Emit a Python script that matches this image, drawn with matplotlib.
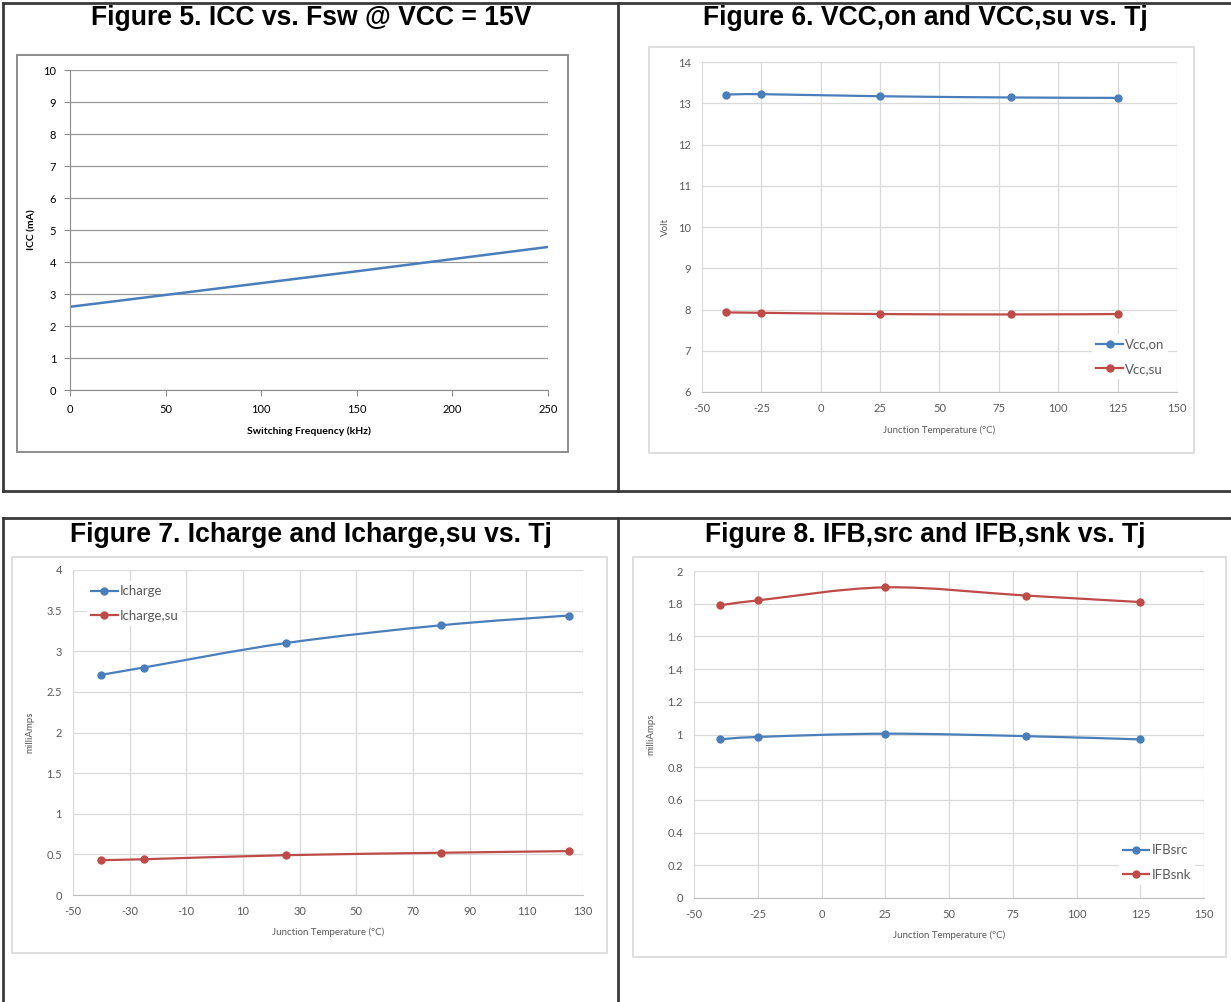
"""
Four datasheet characteristic plots (Figure 5-8) laid out in a 2x2 table.
"""
import matplotlib
matplotlib.use("Agg")
import matplotlib.pyplot as plt
from matplotlib.lines import Line2D
from matplotlib.patches import Rectangle, PathPatch
from matplotlib.path import Path

plt.rcParams["axes.unicode_minus"] = False

# ---- data -------------------------------------------------------------
fsw_khz = [0, 50, 100, 150, 200, 250]
icc_ma = [2.60, 2.97, 3.34, 3.71, 4.09, 4.47]

tj = [-40, -25, 25, 80, 125]
vcc_on = [13.21, 13.22, 13.17, 13.14, 13.13]
vcc_su = [7.93, 7.92, 7.89, 7.88, 7.89]

icharge = [2.71, 2.80, 3.10, 3.32, 3.44]
icharge_su = [0.43, 0.44, 0.49, 0.52, 0.54]

ifb_src = [0.97, 0.985, 1.005, 0.99, 0.97]
ifb_snk = [1.79, 1.82, 1.90, 1.85, 1.81]

TITLES = ["Figure 5. ICC vs. Fsw @ VCC = 15V",
          "Figure 6. VCC,on and VCC,su vs. Tj",
          "Figure 7. Icharge and Icharge,su vs. Tj",
          "Figure 8. IFB,src and IFB,snk vs. Tj"]

BLUE = "#4a7ebb"
RED = "#be4b48"
GREY_TXT = "#595959"
GRID = "#d9d9d9"
TICK_FONT = ["Lato", "DejaVu Sans"]

W, H = 1231, 1002
fig = plt.figure(figsize=(W / 100, H / 100), dpi=100)


def fx(px):
    return px / W


def fy(py):
    return 1 - py / H


def axes_px(x0, y0, x1, y1):
    return fig.add_axes([fx(x0), fy(y1), fx(x1 - x0), (y1 - y0) / H])


def frame_px(x0, y0, x1, y1, color, lw):
    fig.add_artist(Rectangle((fx(x0), fy(y1)), fx(x1 - x0), (y1 - y0) / H,
                             transform=fig.transFigure, fill=False,
                             edgecolor=color, linewidth=lw))


def hline(y, x0, x1):
    fig.add_artist(Line2D([fx(x0), fx(x1)], [fy(y), fy(y)], color="#3a3a3a", lw=2))


def vline(x, y0, y1):
    fig.add_artist(Line2D([fx(x), fx(x)], [fy(y0), fy(y1)], color="#3a3a3a", lw=2))


def smooth(ax, xs, ys, color, label):
    # Excel-style smoothed line: cubic bezier through every point
    verts = [(xs[0], ys[0])]
    codes = [Path.MOVETO]
    n = len(xs)
    for i in range(n - 1):
        xp, yp = (xs[i - 1], ys[i - 1]) if i > 0 else (xs[i], ys[i])
        xn, yn = (xs[i + 2], ys[i + 2]) if i + 2 < n else (xs[i + 1], ys[i + 1])
        c1 = (xs[i] + (xs[i + 1] - xp) / 6, ys[i] + (ys[i + 1] - yp) / 6)
        c2 = (xs[i + 1] - (xn - xs[i]) / 6, ys[i + 1] - (yn - ys[i]) / 6)
        verts += [c1, c2, (xs[i + 1], ys[i + 1])]
        codes += [Path.CURVE4] * 3
    ax.add_patch(PathPatch(Path(verts, codes), fill=False, edgecolor=color, lw=1.6))
    ax.plot(xs, ys, "o", color=color, ms=5, zorder=3)
    ax.plot([], [], "-o", color=color, ms=5, lw=1.6, label=label)


def style_modern(ax, xticks, yticks, ylabel):
    ax.set_xlim(xticks[0], xticks[-1])
    ax.set_ylim(yticks[0], yticks[-1])
    ax.set_xticks(xticks)
    ax.set_yticks(yticks)
    ax.set_yticklabels([f"{v:g}" for v in yticks])
    ax.grid(True, color=GRID, lw=0.9)
    ax.set_axisbelow(True)
    for s in ["top", "right", "left"]:
        ax.spines[s].set_visible(False)
    ax.spines["bottom"].set_color("#bfbfbf")
    ax.tick_params(length=0, labelsize=8, labelcolor=GREY_TXT, pad=8)
    for lab in ax.get_xticklabels() + ax.get_yticklabels():
        lab.set_family(TICK_FONT)
    ax.set_xlabel("Junction Temperature (°C)", fontsize=7, color=GREY_TXT,
                  family=TICK_FONT)
    ax.set_ylabel(ylabel, fontsize=7, color=GREY_TXT, family=TICK_FONT)


def add_legend(ax, loc, anchor):
    ax.legend(loc=loc, bbox_to_anchor=anchor, frameon=True,
              facecolor="white", edgecolor="none", framealpha=1,
              prop={"family": TICK_FONT, "size": 9.5}, labelcolor=GREY_TXT,
              handlelength=2.0, handletextpad=0.15, labelspacing=0.95,
              borderpad=0.3)


# ---- table borders ----------------------------------------------------
hline(3, 3, W)
hline(491, 3, W)
hline(518, 3, W)
vline(3, 3, 491)
vline(3, 518, H)
vline(618, 3, 491)
vline(618, 518, H)

# ---- titles -----------------------------------------------------------
for (cx, cy), t in zip([(311, 18), (925, 18), (311, 535), (925, 535)], TITLES):
    fig.text(fx(cx), fy(cy), t, ha="center", va="center", fontsize=19.1,
             fontweight="bold", family="Liberation Sans")

# ---- Figure 5 ---------------------------------------------------------
frame_px(17, 55, 568, 452, "#8c8c8c", 1.4)
ax5 = axes_px(70, 70, 548, 390)
ax5.plot(fsw_khz, icc_ma, color=BLUE, lw=1.8)
ax5.set_xlim(0, 250)
ax5.set_ylim(0, 10)
ax5.set_xticks(range(0, 251, 50))
ax5.set_yticks(range(0, 11))
ax5.grid(True, axis="y", color="#9a9a9a", lw=0.9)
ax5.set_axisbelow(True)
ax5.spines["top"].set_visible(False)
ax5.spines["right"].set_visible(False)
ax5.spines["left"].set_color("#8c8c8c")
ax5.spines["bottom"].set_color("#8c8c8c")
ax5.tick_params(direction="out", length=4, color="#8c8c8c", labelsize=8, pad=6)
for lab in ax5.get_xticklabels() + ax5.get_yticklabels():
    lab.set_family(TICK_FONT)
ax5.set_xlabel("Switching Frequency (kHz)", fontsize=7.5, fontweight="bold",
               family=TICK_FONT)
ax5.set_ylabel("ICC (mA)", fontsize=7.5, fontweight="bold", family=TICK_FONT)
ax5.xaxis.set_label_coords(0.5, -0.115)
ax5.yaxis.set_label_coords(-0.07, 0.5)

# ---- Figure 6 ---------------------------------------------------------
frame_px(649, 47, 1194, 453, GRID, 1.2)
ax6 = axes_px(702, 62, 1177, 392)
smooth(ax6, tj, vcc_on, BLUE, "Vcc,on")
smooth(ax6, tj, vcc_su, RED, "Vcc,su")
style_modern(ax6, list(range(-50, 151, 25)), list(range(6, 15)), "Volt")
ax6.xaxis.set_label_coords(0.5, -0.10)
ax6.yaxis.set_label_coords(-0.067, 0.5)
add_legend(ax6, "lower right", (0.995, 0.02))

# ---- Figure 7 ---------------------------------------------------------
frame_px(12, 557, 607, 953, GRID, 1.2)
ax7 = axes_px(73, 570, 583, 895)
smooth(ax7, tj, icharge, BLUE, "Icharge")
smooth(ax7, tj, icharge_su, RED, "Icharge,su")
style_modern(ax7, list(range(-50, 131, 20)), [i * 0.5 for i in range(9)], "milliAmps")
ax7.xaxis.set_label_coords(0.5, -0.10)
ax7.yaxis.set_label_coords(-0.075, 0.5)
add_legend(ax7, "upper left", (0.015, 0.985))

# ---- Figure 8 ---------------------------------------------------------
frame_px(633, 557, 1226, 957, GRID, 1.2)
ax8 = axes_px(694, 571, 1204, 898)
smooth(ax8, tj, ifb_src, BLUE, "IFBsrc")
smooth(ax8, tj, ifb_snk, RED, "IFBsnk")
style_modern(ax8, list(range(-50, 151, 25)), [round(i * 0.2, 1) for i in range(11)],
             "milliAmps")
ax8.xaxis.set_label_coords(0.5, -0.10)
ax8.yaxis.set_label_coords(-0.075, 0.5)
add_legend(ax8, "lower right", (0.995, 0.02))

fig.savefig("out.png", dpi=100)
